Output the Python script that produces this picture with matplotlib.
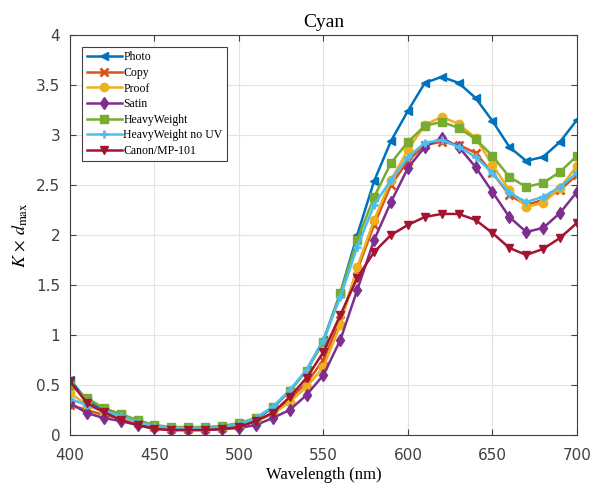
import numpy as np
import matplotlib
matplotlib.use("Agg")
import matplotlib.pyplot as plt

plt.rcParams['mathtext.fontset'] = 'stix'

# wavelengths (nm)
wl = np.arange(400, 701, 10)

photo = [0.55, 0.35, 0.25, 0.20, 0.13, 0.09, 0.07, 0.07, 0.07, 0.08, 0.11, 0.16, 0.27, 0.44, 0.65, 0.95,
         1.42, 2.00, 2.54, 2.94, 3.24, 3.52, 3.58, 3.52, 3.37, 3.14, 2.88, 2.74, 2.78, 2.93, 3.15]
copy = [0.30, 0.25, 0.20, 0.17, 0.12, 0.08, 0.06, 0.06, 0.06, 0.07, 0.09, 0.14, 0.22, 0.36, 0.52, 0.75,
        1.15, 1.65, 2.10, 2.50, 2.74, 2.90, 2.93, 2.90, 2.82, 2.62, 2.40, 2.30, 2.35, 2.45, 2.60]
proof = [0.42, 0.30, 0.23, 0.18, 0.12, 0.08, 0.06, 0.06, 0.06, 0.07, 0.09, 0.14, 0.21, 0.33, 0.48, 0.68,
         1.10, 1.68, 2.15, 2.55, 2.85, 3.10, 3.18, 3.11, 2.97, 2.70, 2.45, 2.28, 2.32, 2.47, 2.69]
satin = [0.32, 0.22, 0.17, 0.14, 0.10, 0.07, 0.05, 0.05, 0.05, 0.06, 0.07, 0.10, 0.17, 0.25, 0.40, 0.60,
         0.95, 1.45, 1.95, 2.33, 2.67, 2.88, 2.97, 2.88, 2.68, 2.43, 2.18, 2.03, 2.07, 2.22, 2.43]
heavy = [0.50, 0.37, 0.27, 0.21, 0.15, 0.10, 0.08, 0.08, 0.08, 0.09, 0.12, 0.17, 0.28, 0.44, 0.64, 0.93,
         1.42, 1.95, 2.38, 2.72, 2.93, 3.09, 3.13, 3.07, 2.96, 2.79, 2.58, 2.48, 2.52, 2.63, 2.79]
heavy_nouv = [0.36, 0.30, 0.24, 0.19, 0.13, 0.09, 0.07, 0.07, 0.07, 0.08, 0.11, 0.17, 0.28, 0.45, 0.65, 0.95,
              1.38, 1.88, 2.30, 2.55, 2.78, 2.92, 2.95, 2.88, 2.78, 2.62, 2.42, 2.33, 2.38, 2.48, 2.62]
canon = [0.54, 0.32, 0.23, 0.15, 0.10, 0.06, 0.05, 0.05, 0.05, 0.06, 0.08, 0.14, 0.22, 0.38, 0.57, 0.83,
         1.20, 1.57, 1.83, 2.00, 2.10, 2.18, 2.21, 2.21, 2.15, 2.02, 1.87, 1.80, 1.86, 1.97, 2.12]

labels = ['Photo', 'Copy', 'Proof', 'Satin', 'HeavyWeight', 'HeavyWeight no UV', 'Canon/MP-101']
series = [photo, copy, proof, satin, heavy, heavy_nouv, canon]
colors = ['#0072bd', '#d95319', '#edb120', '#7e2f8e', '#77ac30', '#4dbeee', '#a2142f']
markers = ['<', 'x', 'o', 'd', 's', '+', 'v']

fig = plt.figure(figsize=(5.95, 4.91), dpi=100)
ax = fig.add_axes([0.1176, 0.114, 0.852, 0.815])

for vals, lab, c, m in zip(series, labels, colors, markers):
    mew = 2 if m in ('x', '+') else 1
    ax.plot(wl, vals, color=c, marker=m, markersize=6, linewidth=1.8,
            markerfacecolor=c, markeredgecolor=c, markeredgewidth=mew, label=lab)

ax.set_xlim(400, 700)
ax.set_ylim(0, 4)
ax.set_xticks(np.arange(400, 701, 50))
ax.set_yticks(np.arange(0, 4.01, 0.5))
ax.set_yticklabels(['0', '0.5', '1', '1.5', '2', '2.5', '3', '3.5', '4'])
ax.grid(True, color='#e3e3e3', linewidth=0.8)
ax.set_axisbelow(True)
ax.tick_params(direction='in', top=True, right=True, labelsize=11, colors='#404040',
               length=4)
ax.tick_params(axis='x', pad=9)
ax.tick_params(axis='y', pad=7)
for s in ax.spines.values():
    s.set_color('#404040')
    s.set_linewidth(0.8)

ax.set_title('Cyan', fontsize=14, family='Liberation Serif', pad=6)
ax.set_xlabel('Wavelength (nm)', fontsize=12, family='Liberation Serif', labelpad=3)
ax.set_ylabel(r'$K\,\times\,d_{\max}$', fontsize=13, labelpad=4)

leg = ax.legend(loc='upper left', bbox_to_anchor=(0.012, 0.985), fancybox=False,
                edgecolor='#404040', framealpha=1, borderpad=0.4, handlelength=3.0,
                handletextpad=0.1, labelspacing=0.3,
                prop={'family': 'Liberation Serif', 'size': 8.5})
leg.get_frame().set_linewidth(0.8)

fig.savefig('out.png', dpi=100)
